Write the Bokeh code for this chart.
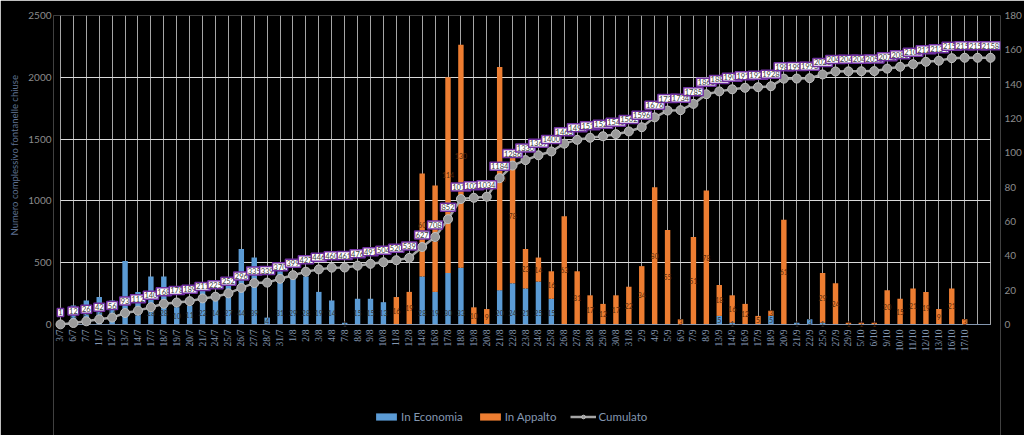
from bokeh.plotting import figure
from bokeh.models import (Range1d, LinearAxis, FixedTicker, SingleIntervalTicker,
                          ColumnDataSource, Legend, LegendItem, Grid, LabelSet, Title)
from bokeh.embed import file_html
from bokeh.resources import INLINE
from bokeh.core.properties import value
import math

# ---------------- data ----------------
dates = ["3/7", "6/7", "7/7", "11/7", "12/7", "13/7", "14/7", "17/7", "18/7", "19/7",
         "20/7", "21/7", "24/7", "25/7", "26/7", "27/7", "28/7", "31/7", "1/8", "2/8",
         "3/8", "4/8", "7/8", "8/8", "9/8", "10/8", "11/8", "12/8", "14/8", "16/8",
         "17/8", "18/8", "19/8", "20/8", "21/8", "22/8", "23/8", "24/8", "25/8", "26/8",
         "27/8", "28/8", "29/8", "30/8", "31/8", "2/9", "4/9", "5/9", "6/9", "7/9",
         "8/9", "13/9", "14/9", "16/9", "17/9", "18/9", "20/9", "21/9", "22/9", "25/9",
         "27/9", "29/9", "5/10", "6/10", "9/10", "10/10", "11/10", "12/10", "13/10", "16/10",
         "17/10", "", ""]

in_economia = [1, 11, 14, 16, 14, 37, 19, 28, 28, 10,
               11, 22, 14, 27, 44, 39, 4, 31, 29, 28,
               19, 14, 1, 15, 15, 13, 0, 0, 28, 19,
               30, 33, 0, 0, 20, 24, 21, 25, 15, 0,
               0, 0, 0, 0, 0, 0, 0, 0, 0, 0,
               0, 5, 1, 0, 0, 5, 0, 1, 3, 1,
               0, 0, 0, 0, 0, 0, 0, 0, 0, 0,
               0]

in_appalto = [0, 0, 0, 0, 0, 0, 0, 0, 0, 0,
              0, 0, 0, 0, 0, 0, 0, 0, 0, 0,
              0, 0, 0, 0, 0, 0, 16, 19, 60, 62,
              114, 130, 10, 9, 130, 78, 23, 14, 16, 63,
              31, 17, 12, 17, 22, 34, 80, 55, 3, 51,
              78, 18, 16, 12, 5, 3, 61, 0, 0, 29,
              24, 1, 1, 1, 20, 15, 21, 19, 9, 21,
              3]

cumulato = [1, 12, 26, 42, 56, 93, 112, 140, 168, 178,
            189, 211, 225, 252, 296, 335, 339, 370, 399, 427,
            446, 460, 461, 476, 491, 504, 520, 539, 627, 708,
            852, 1015, 1025, 1034, 1184, 1286, 1330, 1369, 1400, 1463,
            1494, 1511, 1523, 1540, 1562, 1596, 1676, 1731, 1734, 1785,
            1863, 1886, 1903, 1915, 1920, 1928, 1989, 1990, 1993, 2023,
            2047, 2048, 2049, 2050, 2070, 2085, 2106, 2125, 2134, 2155,
            2158, 2158, 2158]

left_ticks = [0, 500, 1000, 1500, 2000, 2500]
LEFT_MAX = 2500
RIGHT_MAX = 180

# ---------------- styles / layout ----------------
FONT = "Lato"
BLUE = "#5B9BD5"
ORANGE = "#ED7D31"
GREY_LINE = "#a5a5a5"
BG = "#000000"
AXIS_BLUE = "#8497b0"

W, H = 1024, 435
TOP = 15            # px, top of value area
ZERO = 324          # px, where value 0 sits
FRAME_BOTTOM = H    # frame runs to the bottom edge (labels + legend live inside)
LEFT_PX, RIGHT_PX = 52, 1001     # frame edges
CAT0_PX, CATN_PX = 59, 991       # first / last category position
LABEL_GAP_PX = 5                 # gap between category axis and its labels

n_cat = len(dates)
xs = list(range(n_cat))
nb = len(in_economia)
last = n_cat - 1

per_px_x = last / float(CATN_PX - CAT0_PX)
per_px_y = LEFT_MAX / float(ZERO - TOP)
x_lo = -(CAT0_PX - LEFT_PX) * per_px_x
x_hi = last + (RIGHT_PX - CATN_PX) * per_px_x
below_px = FRAME_BOTTOM - ZERO
left_lo = -below_px * per_px_y
right_lo = -below_px * RIGHT_MAX / float(ZERO - TOP)

bar_src = ColumnDataSource(dict(
    x=xs[:nb],
    eco=in_economia,
    app_bottom=in_economia,
    app_top=[e + a for e, a in zip(in_economia, in_appalto)],
))

line_src = ColumnDataSource(dict(
    x=xs,
    cum=cumulato,
    txt=[str(v) for v in cumulato],
))

cat_src = ColumnDataSource(dict(x=xs, y=[-LABEL_GAP_PX * per_px_y] * n_cat, t=dates))

eco_lab = dict(x=[], y=[], t=[])
app_lab = dict(x=[], y=[], t=[])
for i in range(nb):
    e, a = in_economia[i], in_appalto[i]
    if e > 0:
        eco_lab["x"].append(i)
        eco_lab["y"].append(min(e / 2.0, 6.5))
        eco_lab["t"].append(str(e))
    if a > 0:
        app_lab["x"].append(i)
        app_lab["y"].append(e + a / 2.0)
        app_lab["t"].append(str(a))

p = figure(width=W, height=H, output_backend="svg", toolbar_location=None,
           x_axis_location=None,
           x_range=Range1d(x_lo, x_hi), y_range=Range1d(left_lo, LEFT_MAX),
           min_border_left=LEFT_PX, min_border_right=W - RIGHT_PX,
           min_border_top=TOP, min_border_bottom=0)
p.background_fill_color = BG
p.border_fill_color = BG
p.outline_line_color = None
p.extra_y_ranges = {"right": Range1d(right_lo, RIGHT_MAX)}
p.grid.visible = False

# grid lines limited to the value area
vgrid = Grid(dimension=0, ticker=FixedTicker(ticks=xs), cross_bounds=(0, LEFT_MAX),
             grid_line_color="#a6a6a6", grid_line_width=1)
hgrid = Grid(dimension=1, ticker=FixedTicker(ticks=left_ticks), cross_bounds=(0, last),
             grid_line_color="#d9d9d9", grid_line_width=1)
p.add_layout(vgrid, "center")
p.add_layout(hgrid, "center")

# bars (right axis)
r_eco = p.vbar(x="x", bottom=0, top="eco", width=0.42, source=bar_src,
               fill_color=BLUE, line_color=None, y_range_name="right")
r_app = p.vbar(x="x", bottom="app_bottom", top="app_top", width=0.42, source=bar_src,
               fill_color=ORANGE, line_color=None, y_range_name="right")

# category axis line and labels
p.segment(x0=[0], x1=[last], y0=[0], y1=[0], line_color=AXIS_BLUE, line_width=1)
cat_labels = LabelSet(x="x", y="y", text="t", source=cat_src, angle=math.pi / 2,
                      text_font=FONT, text_font_size="9.5px", text_color=AXIS_BLUE,
                      text_align="right", text_baseline="middle")
p.add_layout(cat_labels)

p.text(x="x", y="y", text="t", source=ColumnDataSource(eco_lab), y_range_name="right",
       text_font=value(FONT), text_font_size="7px", text_color="#333333",
       text_align="center", text_baseline="middle")
p.text(x="x", y="y", text="t", source=ColumnDataSource(app_lab), y_range_name="right",
       text_font=value(FONT), text_font_size="7px", text_color="#5a2a0a",
       text_align="center", text_baseline="middle")

# cumulative line (left axis)
r_line = p.line(x="x", y="cum", source=line_src, line_color=GREY_LINE, line_width=2.5)
r_pts = p.scatter(x="x", y="cum", source=line_src, marker="circle", size=9,
                  fill_color="#9a9a9a", line_color="#c0c0c0", line_width=1)

p.text(x="x", y="cum", text="txt", source=line_src, y_offset=-12,
       text_font=value(FONT), text_font_size="7.5px", text_color="#404040",
       text_align="center", text_baseline="middle",
       background_fill_color="white", border_line_color="#7030A0",
       border_line_width=1.5, padding=1)

# value axes
ya = p.yaxis[0]
ya.ticker = FixedTicker(ticks=left_ticks)
ya.major_label_text_font = FONT
ya.major_label_text_font_size = "10px"
ya.major_label_text_color = "#8c8c8c"
ya.major_label_standoff = 2
ya.major_tick_out = 0
ya.major_tick_in = 0
ya.major_tick_line_color = None
ya.minor_tick_line_color = None
ya.axis_line_color = None

# axis title, placed beside the value area (its start sits near the zero line)
ytitle = Title(text="Numero complessivo fontanelle chiuse", align="left",
               offset=FRAME_BOTTOM - ZERO + 89, standoff=12,
               text_font=FONT, text_font_size="9.5px", text_font_style="normal",
               text_color="#5f7190")
p.add_layout(ytitle, "left")

ra = LinearAxis(y_range_name="right", ticker=SingleIntervalTicker(interval=20))
ra.bounds = (0, RIGHT_MAX)
ra.major_label_text_font = FONT
ra.major_label_text_font_size = "10px"
ra.major_label_text_color = "#8c8c8c"
ra.major_label_standoff = 0
ra.major_tick_out = 0
ra.major_tick_in = 0
ra.major_tick_line_color = None
ra.minor_tick_line_color = None
ra.axis_line_color = None
p.add_layout(ra, "right")

# legend inside the (extended) frame, under the category labels
legend = Legend(items=[
    LegendItem(label="In Economia", renderers=[r_eco]),
    LegendItem(label="In Appalto", renderers=[r_app]),
    LegendItem(label="Cumulato", renderers=[r_line, r_pts]),
], location=(320, 12), orientation="horizontal")
legend.background_fill_alpha = 0
legend.border_line_color = None
legend.padding = 0
legend.margin = 0
legend.spacing = 14
legend.glyph_width = 26
legend.glyph_height = 9
legend.label_height = 14
legend.label_standoff = 2
legend.label_text_font = FONT
legend.label_text_font_size = "11.5px"
legend.label_text_color = AXIS_BLUE
p.add_layout(legend, "center")

open("out.html", "w").write(file_html(p, INLINE))
